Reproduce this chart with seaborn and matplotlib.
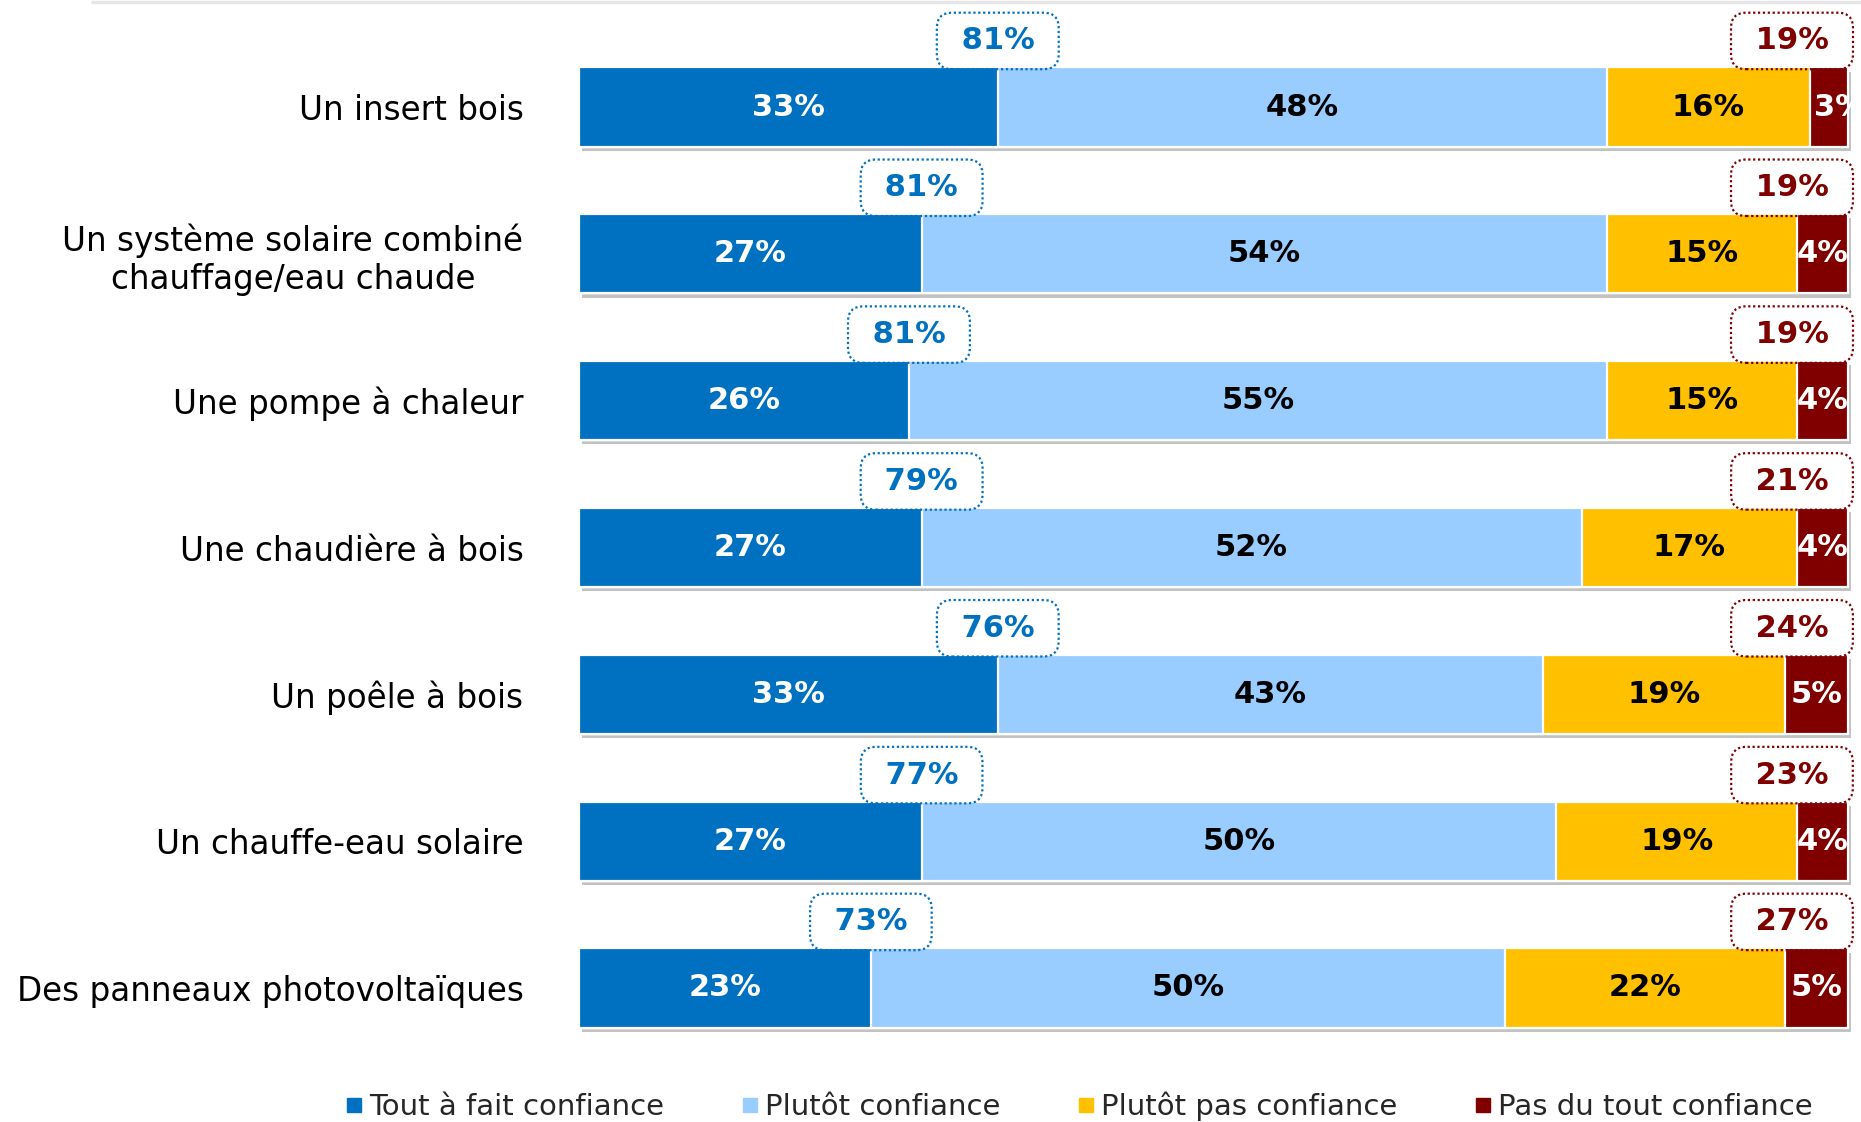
"""
Confiance dans les équipements de chauffage renouvelable
Barres empilées horizontales (seaborn), avec totaux encadrés.
"""

import matplotlib
matplotlib.use("Agg")
import matplotlib.pyplot as plt
import matplotlib.patheffects as pe
from matplotlib.lines import Line2D
import pandas as pd
import seaborn as sns

categories = [
    "Un insert bois",
    "Un système solaire combiné\nchauffage/eau chaude",
    "Une pompe à chaleur",
    "Une chaudière à bois",
    "Un poêle à bois",
    "Un chauffe-eau solaire",
    "Des panneaux photovoltaïques",
]
tout_a_fait = [33, 27, 26, 27, 33, 27, 23]
plutot = [48, 54, 55, 52, 43, 50, 50]
plutot_pas = [16, 15, 15, 17, 19, 19, 22]
pas_du_tout = [3, 4, 4, 4, 5, 4, 5]
total_confiance = [81, 81, 81, 79, 76, 77, 73]
total_pas = [19, 19, 19, 21, 24, 23, 27]

series_names = ["Tout à fait confiance", "Plutôt confiance",
                "Plutôt pas confiance", "Pas du tout confiance"]
colors = ["#0070C0", "#99CCFF", "#FFC000", "#800000"]
text_colors = ["white", "black", "black", "white"]

sns.set_theme(style="white")
plt.rcParams["font.family"] = ["DejaVu Sans"]

W, H = 1861, 1122
fig = plt.figure(figsize=(W / 100, H / 100), dpi=100)

# axes: x 0..100 -> 579..1848 px ; rows centred at 107 + 147*i px
x0, x100 = 579, 1848
px_per = (x100 - x0) / 100
x_right = 1858
row0, step = 107, 146.8
ax_top, ax_bot = 0, 1060
ax = fig.add_axes([x0 / W, (H - ax_bot) / H, (x_right - x0) / W, (ax_bot - ax_top) / H])

values = [tout_a_fait, plutot, plutot_pas, pas_du_tout]

# cumulative trick: draw longest bar first, then shorter ones on top
cums = []
run = [0] * len(categories)
for v in values:
    run = [a + b for a, b in zip(run, v)]
    cums.append(run)

bar_patches = {}
for k in range(3, -1, -1):
    n_before = len(ax.patches)
    d = pd.DataFrame({"cat": categories, "val": cums[k]})
    sns.barplot(data=d, x="val", y="cat", orient="h", color=colors[k],
                width=0.54, edgecolor="white", linewidth=1.6, saturation=1,
                ax=ax)
    bar_patches[k] = ax.patches[n_before:]
    if k == 3:
        for p in bar_patches[k]:
            p.set_path_effects([
                pe.SimplePatchShadow(offset=(2.5, -3), shadow_rgbFace="#9a9a9a", alpha=0.6),
                pe.Normal(),
            ])

ax.set_xlim(0, (x_right - x0) / px_per)
ax.set_ylim(6 + (ax_bot - 988) / step, -(row0 - ax_top) / step)
ax.set_xlabel("")
ax.set_ylabel("")
ax.set_xticks([])
sns.despine(ax=ax, left=True, bottom=True)
ax.tick_params(axis="y", length=0, pad=40)
for lab in ax.get_yticklabels():
    lab.set_fontsize(23.5)
    lab.set_multialignment("center")
    lab.set_color("black")

# segment labels (a label too wide for its segment starts at the segment's left edge)
for i in range(len(categories)):
    start = 0
    for k, v in enumerate(values):
        v_i = v[i]
        if v_i < 4:
            t = ax.text(start + 0.3, i, f"{v_i}%", ha="left", va="center",
                        fontsize=22, fontweight="bold", color=text_colors[k])
        else:
            t = ax.text(start + v_i / 2, i, f"{v_i}%", ha="center", va="center",
                        fontsize=22, fontweight="bold", color=text_colors[k])
        if k == 3:
            t.set_clip_path(bar_patches[3][i])
        start += v_i

# dotted boxes with totals
dy = -0.45
box = dict(boxstyle="round,pad=0.45,rounding_size=0.5", fc="none",
           ls=(0, (1, 1.2)), lw=1.6)
for i in range(len(categories)):
    ax.text(tout_a_fait[i], i + dy, f" {total_confiance[i]}% ", ha="center", va="center",
            fontsize=22, fontweight="bold", color="#0070C0",
            bbox=dict(box, ec="#0070C0"))
    ax.text((1792 - x0) / px_per, i + dy, f" {total_pas[i]}% ", ha="center", va="center",
            fontsize=22, fontweight="bold", color="#800000",
            bbox=dict(box, ec="#800000"))

# thin grey rule at the very top
fig.add_artist(Line2D([91 / W, 1.0], [1 - 1.5 / H, 1 - 1.5 / H], color="#e6e6e6",
                      lw=2.5, solid_capstyle="butt", transform=fig.transFigure))

handles = [plt.Line2D([], [], marker="s", ls="", color=c, markersize=10) for c in colors]
fig.legend(handles, series_names, loc="center", bbox_to_anchor=(0.579, 1 - 1106 / H),
           ncol=4, frameon=False, fontsize=21, handletextpad=0.1,
           columnspacing=2.55, handlelength=0.8)

fig.savefig("out.png", dpi=100)
